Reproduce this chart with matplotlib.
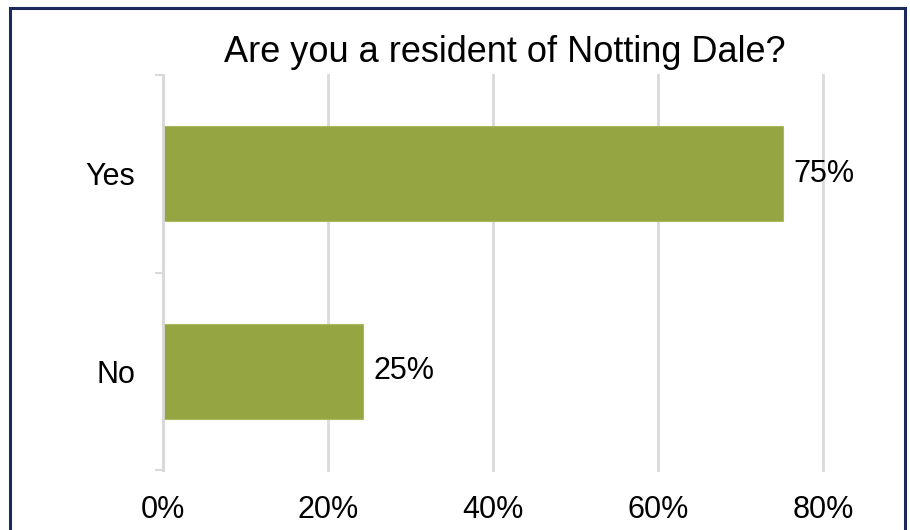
import matplotlib
matplotlib.use("Agg")
import matplotlib.pyplot as plt
from matplotlib.patches import Rectangle
from matplotlib.ticker import PercentFormatter, FixedLocator

categories = ["Yes", "No"]
values = [0.752, 0.243]
value_labels = ["75%", "25%"]
x_ticks = [0.0, 0.2, 0.4, 0.6, 0.8]
title = "Are you a resident of Notting Dale?"

plt.rcParams['font.family'] = ['Liberation Sans', 'DejaVu Sans']

W, H = 910, 530
fig = plt.figure(figsize=(W / 100, H / 100), dpi=100)
fig.patch.set_facecolor("white")

# outer border
fig.patches.append(Rectangle((9.5 / W, -0.05), (905 - 9.5) / W, 1.05 - 7.5 / H,
                             transform=fig.transFigure, fill=False,
                             edgecolor="#1B2A5A", linewidth=2.2, zorder=10))

ax = fig.add_axes([163 / W, 1 - 470 / H, (823 - 163) / W, (470 - 75) / H])
ypos = list(range(len(categories)))
ax.barh(ypos, values, height=0.48, color="#94A541", edgecolor="#A9BA5E",
        linewidth=0.8, zorder=3)
ax.set_ylim(len(categories) - 0.5, -0.5)
ax.set_xlim(0, 0.8)

ax.set_yticks(ypos)
ax.set_yticklabels(categories, fontsize=22)
ax.yaxis.set_minor_locator(FixedLocator([-0.5, 0.5, 1.5]))
ax.tick_params(axis="y", which="major", length=0, pad=20)
ax.tick_params(axis="y", which="minor", length=6, width=1.5, color="#D9D9D9")

ax.xaxis.set_major_locator(FixedLocator(x_ticks))
ax.xaxis.set_major_formatter(PercentFormatter(1.0, decimals=0))
ax.tick_params(axis="x", length=0, pad=18, labelsize=22)

ax.grid(axis="x", color="#D9D9D9", linewidth=2, zorder=0)
for gl in ax.get_xgridlines():
    gl.set_clip_on(False)
for s in ["top", "right", "bottom"]:
    ax.spines[s].set_visible(False)
ax.spines["left"].set_color("#D9D9D9")
ax.spines["left"].set_linewidth(2)
ax.spines["left"].set_zorder(4)

for y, v, lab in zip(ypos, values, value_labels):
    ax.annotate(lab, (v, y), xytext=(7, 0), textcoords="offset points",
                va="center", ha="left", fontsize=22, color="#000000", zorder=5)

fig.text(505 / W, 1 - 52 / H, title, ha="center", va="center", fontsize=26)

fig.savefig("out.png", dpi=100, facecolor="white")
